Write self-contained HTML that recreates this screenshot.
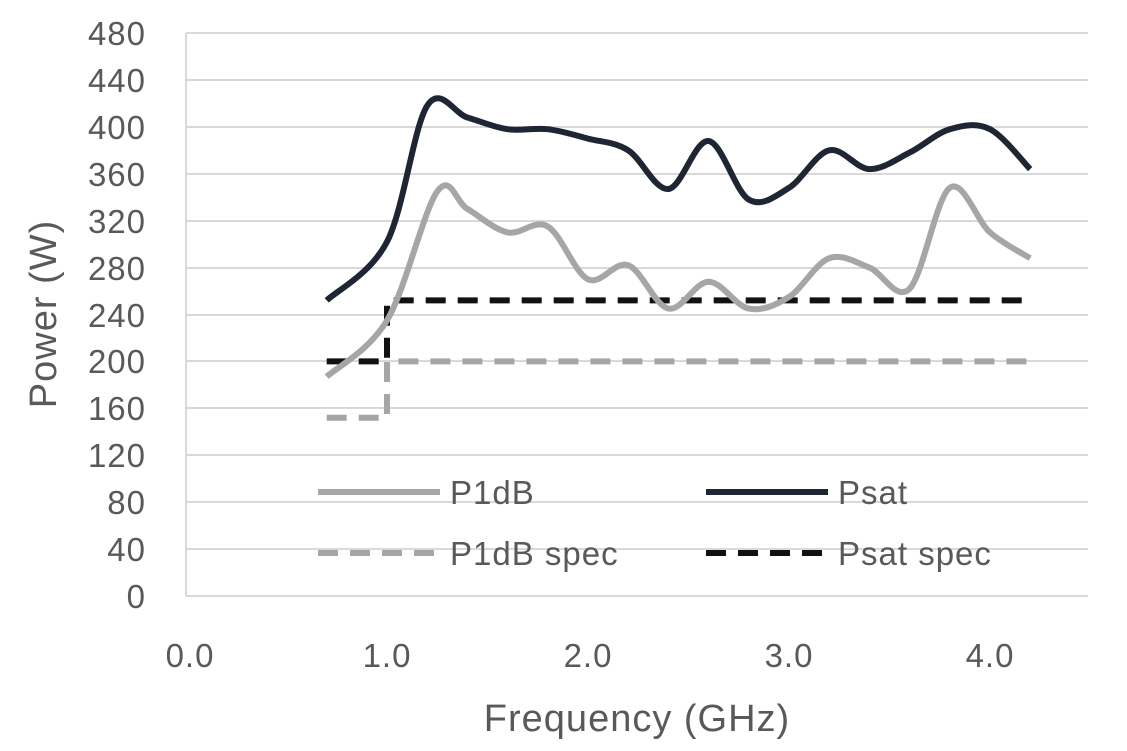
<!DOCTYPE html>
<html><head><meta charset="utf-8"><style>
body{margin:0;background:#fff}
text{font-family:"Liberation Sans",sans-serif;fill:#595959}
</style></head><body>
<svg width="1127" height="746" viewBox="0 0 1127 746" xmlns="http://www.w3.org/2000/svg">
<g stroke="#d9d9d9" stroke-width="2">
<line x1="186" x2="1088" y1="33" y2="33"/><line x1="186" x2="1088" y1="80" y2="80"/>
<line x1="186" x2="1088" y1="127" y2="127"/><line x1="186" x2="1088" y1="174" y2="174"/>
<line x1="186" x2="1088" y1="221" y2="221"/><line x1="186" x2="1088" y1="268" y2="268"/>
<line x1="186" x2="1088" y1="315" y2="315"/><line x1="186" x2="1088" y1="361" y2="361"/>
<line x1="186" x2="1088" y1="408" y2="408"/><line x1="186" x2="1088" y1="455" y2="455"/>
<line x1="186" x2="1088" y1="502" y2="502"/><line x1="186" x2="1088" y1="549" y2="549"/>
<line x1="186" x2="1088" y1="596" y2="596"/><line x1="186" x2="186" y1="33" y2="596"/>
</g>
<g font-size="33" text-anchor="end" letter-spacing="1">
<text x="146" y="45">480</text><text x="146" y="92">440</text><text x="146" y="139">400</text>
<text x="146" y="186">360</text><text x="146" y="233">320</text><text x="146" y="280">280</text>
<text x="146" y="327">240</text><text x="146" y="373">200</text><text x="146" y="420">160</text>
<text x="146" y="467">120</text><text x="146" y="514">80</text><text x="146" y="561">40</text>
<text x="146" y="608">0</text>
</g>
<g font-size="33" text-anchor="middle" letter-spacing="1">
<text x="190" y="667">0.0</text><text x="387" y="667">1.0</text><text x="588" y="667">2.0</text>
<text x="789" y="667">3.0</text><text x="990" y="667">4.0</text>
</g>
<text x="637" y="731" font-size="38" text-anchor="middle" letter-spacing="1">Frequency (GHz)</text>
<text transform="translate(56,314) rotate(-90)" font-size="38" text-anchor="middle" letter-spacing="1">Power (W)</text>
<g fill="none" stroke-width="6" stroke-linejoin="round">
<polyline stroke="#a6a6a6" stroke-dasharray="20,12" points="326.7,417.7 387,417.7 387,361.4 1030.2,361.4"/>
<polyline stroke="#111" stroke-dasharray="20,12" points="326.7,361.4 387,361.4 387,300.4 1030.2,300.4"/>
<path id="p1" stroke="#a6a6a6" d=""/>
<path id="p2" stroke="#1f2633" d=""/>
<line x1="318" x2="440" y1="492" y2="492" stroke="#a6a6a6"/>
<line x1="706" x2="828" y1="492" y2="492" stroke="#1f2633"/>
<line x1="318" x2="440" y1="553" y2="553" stroke="#a6a6a6" stroke-dasharray="20,12"/>
<line x1="706" x2="828" y1="553" y2="553" stroke="#111" stroke-dasharray="20,12"/>
</g>
<g font-size="33" letter-spacing="1">
<text x="450" y="504">P1dB</text><text x="838" y="504">Psat</text>
<text x="450" y="565">P1dB spec</text><text x="838" y="565">Psat spec</text>
</g>
</svg>
<script>
function cr(p){var d="M"+p[0][0]+","+p[0][1];for(var i=0;i<p.length-1;i++){var a=p[i-1]||p[i],b=p[i],c=p[i+1],e=p[i+2]||c;var t=6;d+=" C"+(b[0]+(c[0]-a[0])/t)+","+(b[1]+(c[1]-a[1])/t)+" "+(c[0]-(e[0]-b[0])/t)+","+(c[1]-(e[1]-b[1])/t)+" "+c[0]+","+c[1];}return d;}
function P(s){return s.trim().split(/\s+/).map(function(q){return q.split(",").map(Number)});}
document.getElementById("p1").setAttribute("d",cr(P("326.7,376.7 387,320.4 437.3,191.4 467.4,208.9 507.6,232.4 547.8,226.5 588,279.3 628.2,265.2 668.4,308.6 708.6,281.7 748.8,308.6 789,296.9 829.2,258.2 869.4,267.6 909.6,288.7 949.8,187.8 990,232.4 1030.2,258.2")));
document.getElementById("p2").setAttribute("d",cr(P("326.7,300.4 387,241.8 427.2,105.7 467.4,117.5 507.6,129.2 547.8,129.2 588,138.6 628.2,150.3 668.4,189 708.6,141 748.8,199.6 789,187.8 829.2,150.3 869.4,169.1 909.6,152.6 949.8,129.2 990,129.2 1030.2,169.1")));
</script>
</body></html>
